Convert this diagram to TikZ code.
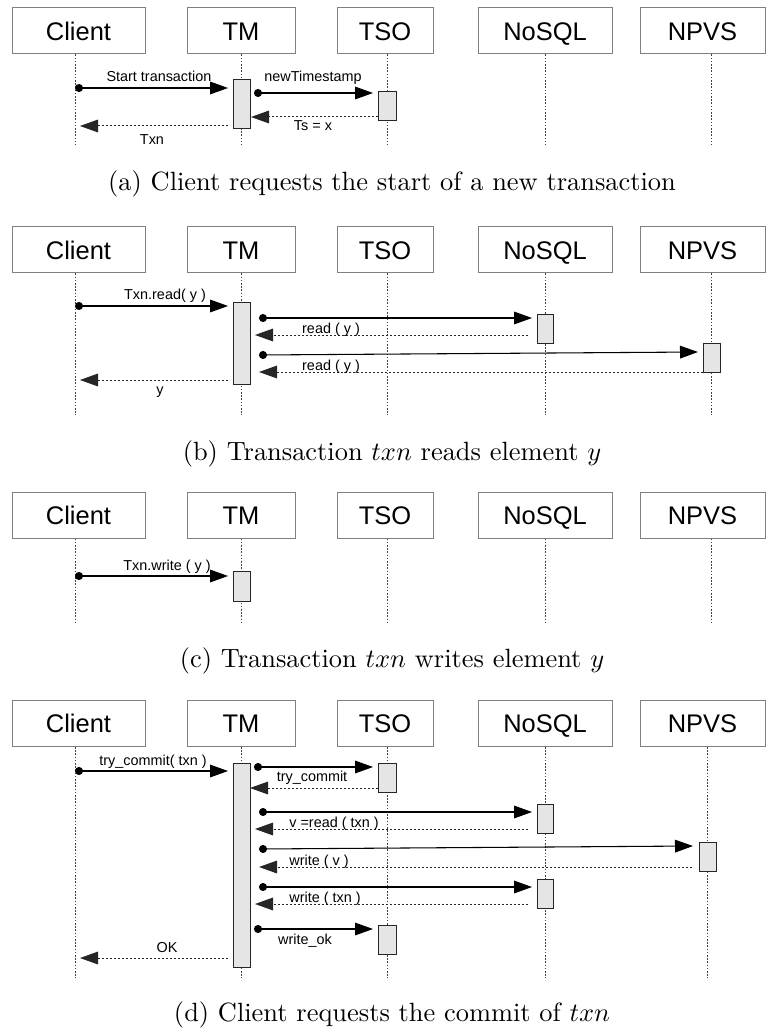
\documentclass[tikz,border=0pt]{standalone}
\usepackage{fontspec}
\newfontfamily\arial{Liberation Sans}
\usetikzlibrary{arrows.meta,fit}
\newcommand\headers[5]{%
  \node[hdr, minimum width=99.75pt] (#1C) at (78.5,#2) {Client};
  \node[hdr, minimum width=81pt] (#1M) at (241,#2) {TM};
  \node[hdr, minimum width=72pt] (#1T) at (385,#2) {TSO};
  \node[hdr, minimum width=100.5pt] (#1N) at (545,#2) {NoSQL};
  \node[hdr, minimum width=93.75pt] (#1P) at (702.5,#2) {NPVS};
  \coordinate (#1Cl) at (75,#3);
  \coordinate (#1Ml) at (241,#3);
  \coordinate (#1Tl) at (387,#3);
  \coordinate (#1Nl) at (545,#3);
  \coordinate (#1Pl) at (#4,#3);
  \foreach \k in {C,M,T,N,P} {\draw[life] (#1\k l |- #1\k.south) -- (#1\k l);}
}
\newcommand\actbox[5]{\node[act, fit={(#2,#3)(#4,#5)}] (#1) {};}
\newcommand\msg[6]{\coordinate (#2s) at (#3,#4); \coordinate (#2e) at (#5,#6); \draw[#1] (#2s) -- (#2e);}
\begin{document}
\begin{tikzpicture}[x=0.75pt,y=-0.75pt,
 hdr/.style={draw=black!50, line width=0.75pt, fill=white, font=\arial\fontsize{19.1}{22}\selectfont, inner sep=0pt, minimum height=34.5pt, text height=13.7pt, text depth=0pt},
 life/.style={draw=black!75, line width=0.75pt, dash pattern=on 1.2pt off 1.2pt},
 act/.style={draw=black!85, fill=black!10, line width=0.75pt, inner sep=0pt},
 call/.style={draw=black, line width=0.8pt, {Circle[length=6pt]}-{Triangle[length=13.5pt,width=9.5pt]}},
 reply/.style={draw=black!85, line width=0.75pt, dash pattern=on 1.5pt off 1.5pt, -{Triangle[length=13.5pt,width=9.5pt]}},
 lbl/.style={font=\arial\fontsize{10.8}{12}\selectfont, anchor=base, inner sep=0pt},
 captext/.style={font=\fontsize{10}{12}\selectfont, scale=1.98, anchor=base, inner sep=0pt}]
\useasboundingbox (0,0) rectangle (766,1030);
\fill[white] (0,0) rectangle (766,1030);

% ---------- panel (a)
\headers{a}{31}{145}{711}{}
\actbox{aA1}{233}{80}{250}{129}
\actbox{aA2}{378}{92}{396}{121}
\msg{call}{am1}{75}{88}{228}{88}
\msg{call}{am2}{254}{93}{373}{93}
\msg{reply}{ar1}{378}{117}{251}{117}
\msg{reply}{ar2}{228}{126}{80}{126}
\node[lbl] (al1) at (159,82) {Start transaction};
\node[lbl] (al2) at (313,82) {newTimestamp};
\node[lbl] (al3) at (313,131) {Ts = x};
\node[lbl] (al4) at (152,145) {Txn};
\node[captext] (capa) at (392,191) {(a) Client requests the start of a new transaction};

% ---------- panel (b)
\headers{b}{250}{415}{711}{}
\actbox{bA1}{233}{302}{250}{384}
\actbox{bA2}{537}{314}{553}{343}
\actbox{bA3}{703}{343}{720}{372}
\msg{call}{bm1}{75}{306}{228}{306}
\msg{call}{bm2}{259}{318}{532}{318}
\msg{reply}{br1}{528}{335}{255}{335}
\msg{call}{bm3}{259}{355}{698}{352}
\msg{reply}{br2}{703}{372}{259}{372}
\msg{reply}{br3}{228}{380}{80}{380}
\node[lbl] (bl1) at (165,300) {Txn.read( y )};
\node[lbl] (bl2) at (331,333) {read ( y )};
\node[lbl] (bl3) at (331,370) {read ( y )};
\node[lbl] (bl4) at (160,394) {y};
\node[captext] (capb) at (392,460) {(b) Transaction $txn$ reads element $y$};

% ---------- panel (c)
\headers{c}{515}{624}{711}{}
\actbox{cA1}{233}{571}{250}{601}
\msg{call}{cm1}{75}{576}{228}{576}
\node[lbl] (cl1) at (167,570) {Txn.write ( y )};
\node[captext] (capc) at (392,667) {(c) Transaction $txn$ writes element $y$};

% ---------- panel (d)
\headers{d}{723.5}{978}{707}{}
\actbox{dA1}{233}{763}{250}{967}
\actbox{dA2}{378}{763}{396}{792}
\actbox{dA3}{537}{804}{553}{833}
\actbox{dA4}{699}{842}{716}{871}
\actbox{dA5}{537}{879}{553}{908}
\actbox{dA6}{378}{925}{396}{954}
\msg{call}{dm1}{75}{771}{228}{771}
\msg{call}{dm2}{254}{767}{373}{767}
\msg{reply}{dr2}{378}{788}{250}{788}
\msg{call}{dm3}{259}{812}{532}{812}
\msg{reply}{dr3}{528}{829}{255}{829}
\msg{call}{dm4}{259}{849}{693}{846}
\msg{reply}{dr4}{692}{867}{259}{867}
\msg{call}{dm5}{259}{887}{532}{887}
\msg{reply}{dr5}{528}{904}{255}{904}
\msg{call}{dm6}{254}{929}{373}{929}
\msg{reply}{dr6}{228}{958}{80}{958}
\node[lbl] (dl1) at (153,765) {try\_commit( txn )};
\node[lbl] (dl2) at (312,781) {try\_commit};
\node[lbl] (dl3) at (334,827) {v =read ( txn )};
\node[lbl] (dl4) at (319,865) {write ( v )};
\node[lbl] (dl5) at (325,902) {write ( txn )};
\node[lbl] (dl6) at (305,944) {write\_ok};
\node[lbl] (dl7) at (167,952) {OK};
\node[captext] (capd) at (392,1021) {(d) Client requests the commit of $txn$};
\end{tikzpicture}
\end{document}
